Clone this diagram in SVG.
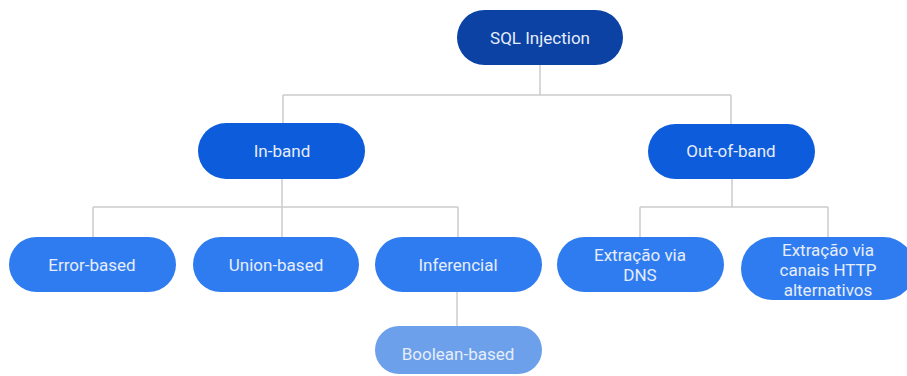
<svg xmlns="http://www.w3.org/2000/svg" width="907" height="376" viewBox="0 0 907 376">
  <style>
    .bg { fill: #ffffff; }
    .edge { fill: none; stroke: #cccccc; stroke-width: 1.5; }
    .root { fill: #0b42a4; }
    .mid { fill: #0c5cdc; }
    .leaf { fill: #2f7cf0; }
    .sub { fill: #6ca0ea; }
    text { font-family: Roboto, "Liberation Sans", sans-serif; font-size: 17px; fill: #e6edfb; text-anchor: middle; }
  </style>
  <rect class="bg" x="0" y="0" width="907" height="376"/>

  <g id="connectors">
    <path class="edge" d="M540 65 V95 M283 95 H731 M283 95 V123 M731 95 V124"/>
    <path class="edge" d="M282 179 V237 M93 207 H458 M93 207 V237 M458 207 V237"/>
    <path class="edge" d="M732 179 V207 M640 207 H828 M640 207 V237 M828 207 V237"/>
    <path class="edge" d="M457 292 V326"/>
  </g>

  <g id="sql-injection">
    <rect class="root" x="457" y="10" width="166" height="55" rx="27.5"/>
    <text x="540" y="44">SQL Injection</text>
  </g>

  <g id="in-band">
    <rect class="mid" x="198" y="123" width="167" height="56" rx="28"/>
    <text x="282" y="157">In-band</text>
  </g>

  <g id="out-of-band">
    <rect class="mid" x="648" y="124" width="167" height="55" rx="27.5"/>
    <text x="731" y="157">Out-of-band</text>
  </g>

  <g id="error-based">
    <rect class="leaf" x="9" y="237" width="167" height="55" rx="27.5"/>
    <text x="92" y="271">Error-based</text>
  </g>

  <g id="union-based">
    <rect class="leaf" x="193" y="237" width="166" height="55" rx="27.5"/>
    <text x="276" y="271">Union-based</text>
  </g>

  <g id="inferencial">
    <rect class="leaf" x="375" y="237" width="167" height="55" rx="27.5"/>
    <text x="458" y="271">Inferencial</text>
  </g>

  <g id="boolean-based">
    <rect class="sub" x="375" y="326" width="167" height="48" rx="24"/>
    <text x="458" y="360">Boolean-based</text>
  </g>

  <g id="extracao-dns">
    <rect class="leaf" x="557" y="237" width="167" height="55" rx="27.5"/>
    <text x="640" y="261">Extração via</text>
    <text x="640" y="281">DNS</text>
  </g>

  <g id="extracao-http">
    <rect class="leaf" x="741" y="237" width="174" height="63" rx="31.5"/>
    <text x="828" y="256">Extração via</text>
    <text x="828" y="276">canais HTTP</text>
    <text x="828" y="296">alternativos</text>
  </g>
</svg>
